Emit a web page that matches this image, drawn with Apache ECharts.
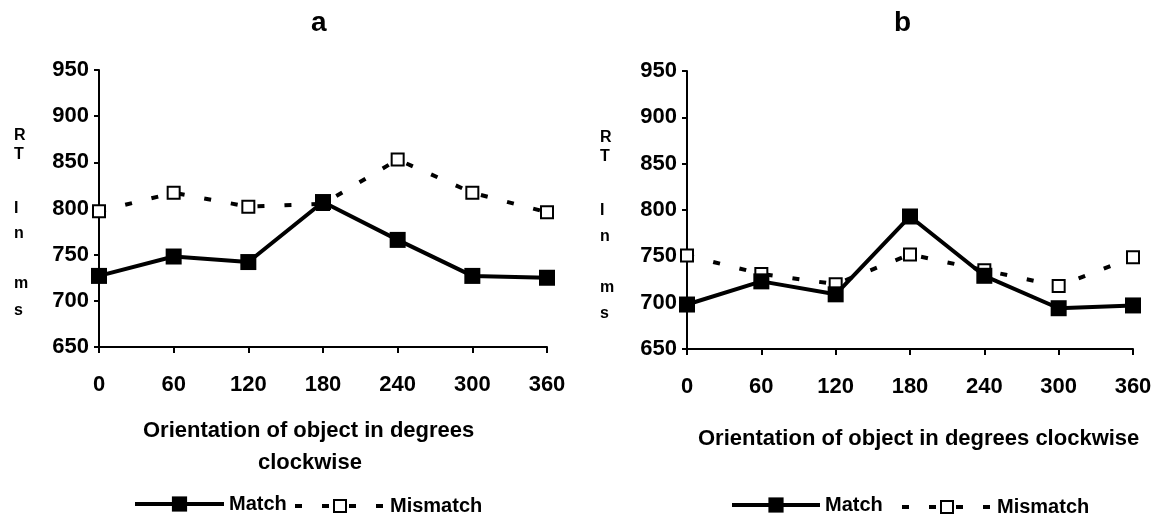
<!DOCTYPE html>
<html>
<head>
<meta charset="utf-8">
<script src="https://cdn.jsdelivr.net/npm/echarts@6/dist/echarts.min.js"></script>
<style>
  html, body { margin: 0; padding: 0; background: #fff; }
  #chart { width: 1160px; height: 516px; }
</style>
</head>
<body>
<div id="chart"></div>
<script>
// ---- data ----
const angles = [0, 60, 120, 180, 240, 300, 360];
const yTicks = [650, 700, 750, 800, 850, 900, 950];
const matchA = [727, 748, 742, 807, 766, 727, 725];
const mismatchA = [797, 817, 802, 805, 853, 817, 796];
const matchB = [698, 723, 709, 793, 729, 694, 697];
const mismatchB = [751, 731, 720, 752, 735, 718, 749];
const panelTitles = ['a', 'b'];
const seriesNames = ['Match', 'Mismatch'];

const FONT = 'Liberation Sans, Arial, sans-serif';
const pairs = (vals) => angles.map((a, i) => [a, vals[i]]);
const DASH = [7, 20];

function xAxis(gridIndex) {
  return {
    type: 'value', gridIndex, min: angles[0], max: angles[angles.length - 1], interval: 60,
    axisLine: { show: true, lineStyle: { color: '#000', width: 2 } },
    axisTick: { show: true, inside: false, length: 6, lineStyle: { color: '#000', width: 2 } },
    axisLabel: { color: '#000', fontFamily: FONT, fontWeight: 'bold', fontSize: 22, margin: 27 },
    splitLine: { show: false }
  };
}
function yAxis(gridIndex) {
  return {
    type: 'value', gridIndex, min: yTicks[0], max: yTicks[yTicks.length - 1], interval: 50,
    axisLine: { show: true, lineStyle: { color: '#000', width: 2 } },
    axisTick: { show: true, inside: false, length: 5, lineStyle: { color: '#000', width: 2 } },
    axisLabel: { color: '#000', fontFamily: FONT, fontWeight: 'bold', fontSize: 22, margin: 10 },
    splitLine: { show: false }
  };
}
function matchSeries(idx, vals) {
  return {
    name: seriesNames[0], type: 'line', xAxisIndex: idx, yAxisIndex: idx, data: pairs(vals),
    symbol: 'rect', symbolSize: 16, z: 3,
    lineStyle: { color: '#000', width: 4, type: 'solid' },
    itemStyle: { color: '#000', borderColor: '#000', borderWidth: 0 }
  };
}
function mismatchSeries(idx, vals) {
  return {
    name: seriesNames[1], type: 'line', xAxisIndex: idx, yAxisIndex: idx, data: pairs(vals),
    symbol: 'rect', symbolSize: 12, z: 2,
    lineStyle: { color: '#000', width: 4, type: DASH },
    itemStyle: { color: '#fff', borderColor: '#000', borderWidth: 2 }
  };
}

const letterStyle = { fill: '#000', font: 'bold 16px ' + FONT, textAlign: 'left', textVerticalAlign: 'top' };
function rtLetters(x, ys) {
  const letters = ['R', 'T', 'I', 'n', 'm', 's'];
  return letters.map((t, i) => ({ type: 'text', left: x - 6, top: ys[i] - 9, style: Object.assign({ text: t }, letterStyle) }));
}

const legendText = { color: '#000', fontFamily: FONT, fontWeight: 'bold', fontSize: 20 };
const solidLegendLine = { color: '#000', width: 4, type: 'solid' };
const dashLegendLine = { color: '#000', width: 4, type: DASH };

const option = {
  backgroundColor: '#fff',
  animation: false,
  title: [
    { text: panelTitles[0], left: 306, top: 4, textStyle: { color: '#000', fontFamily: FONT, fontWeight: 'bold', fontSize: 28 } },
    { text: panelTitles[1], left: 889, top: 4, textStyle: { color: '#000', fontFamily: FONT, fontWeight: 'bold', fontSize: 28 } }
  ],
  grid: [
    { left: 99, top: 70, width: 448, height: 277 },
    { left: 687, top: 71, width: 446, height: 278 }
  ],
  xAxis: [xAxis(0), xAxis(1)],
  yAxis: [yAxis(0), yAxis(1)],
  legend: [
    { data: [seriesNames[0]], left: 128, top: 489, itemWidth: 89, itemHeight: 19, itemGap: 0, lineStyle: solidLegendLine, textStyle: legendText, selectedMode: false },
    { data: [seriesNames[1]], left: 288, top: 491, itemWidth: 90, itemHeight: 15, itemGap: 0, lineStyle: dashLegendLine, textStyle: legendText, selectedMode: false },
    { data: [seriesNames[0]], left: 725, top: 490, itemWidth: 88, itemHeight: 19, itemGap: 0, lineStyle: solidLegendLine, textStyle: legendText, selectedMode: false },
    { data: [seriesNames[1]], left: 895, top: 492, itemWidth: 90, itemHeight: 15, itemGap: 0, lineStyle: dashLegendLine, textStyle: legendText, selectedMode: false }
  ],
  graphic: [
    ...rtLetters(20, [137, 156, 210, 235, 285, 312]),
    ...rtLetters(606, [139, 158, 212, 238, 289, 315]),
    { type: 'text', left: 143, top: 420, style: { text: 'Orientation of object in degrees', fill: '#000', font: 'bold 22px ' + FONT } },
    { type: 'text', left: 258, top: 452, style: { text: 'clockwise', fill: '#000', font: 'bold 22px ' + FONT } },
    { type: 'text', left: 698, top: 428, style: { text: 'Orientation of object in degrees clockwise', fill: '#000', font: 'bold 22px ' + FONT } }
  ],
  series: [
    matchSeries(0, matchA), mismatchSeries(0, mismatchA),
    matchSeries(1, matchB), mismatchSeries(1, mismatchB)
  ]
};

const chart = echarts.init(document.getElementById('chart'), null, { renderer: 'canvas' });
chart.setOption(option);
</script>
</body>
</html>
